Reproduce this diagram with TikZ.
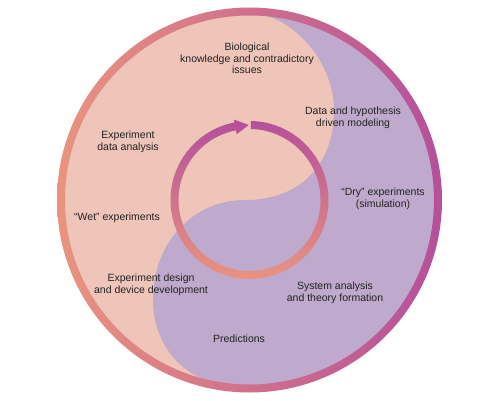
\documentclass[tikz,border=0pt]{standalone}
\usepackage{fontspec}
\setmainfont{Liberation Sans}
\definecolor{peach}{RGB}{240,197,185}
\definecolor{lav}{RGB}{191,170,205}
\definecolor{rsalmon}{RGB}{233,148,128}
\definecolor{rpink}{RGB}{208,112,140}
\definecolor{rpurple}{RGB}{180,80,155}
\definecolor{txt}{RGB}{34,34,34}
\tikzset{
  lbl/.style={align=center, text=txt, inner sep=0pt, font=\fontsize{10.5}{11.7}\selectfont}
}
\begin{document}
\begin{tikzpicture}[x=1pt,y=1pt]
\useasboundingbox (0,0) rectangle (500,400);
\coordinate (C) at (249.5,200);
% background halves
\begin{scope}
  \clip (C) circle[radius=186];
  \fill[peach] (C) circle[radius=186];
  \fill[lav] (253,386) .. controls (290,386) and (334,340) .. (334,290)
    .. controls (334,235) and (300,200) .. (245,200)
    .. controls (195,200) and (153,160) .. (153,100)
    .. controls (153,50) and (190,14) .. (237,14)
    -- (237,-5) -- (470,-5) -- (470,405) -- (253,405) -- cycle;
\end{scope}
% outer ring
\shade[left color=rsalmon, right color=rpurple, middle color=rpink, even odd rule]
  (C) circle[radius=192.5] (C) circle[radius=184.5];
% inner arrow ring
\begin{scope}[shift={(249.5,200)}]
\shade[top color=rpurple, bottom color=rsalmon]
  (89:79) arc[start angle=89, end angle=-259, radius=79]
  -- (-259:82) -- (90.6:75) -- (-259:67) -- (-259:71)
  arc[start angle=-259, end angle=89, radius=71] -- cycle;
\end{scope}
% labels
\node[lbl] (bio) at (247,341.5) {Biological\\knowledge and contradictory\\issues};
\node[lbl] (data) at (353,282.5) {Data and hypothesis\\driven modeling};
\node[lbl] (eda) at (128,258) {Experiment\\data analysis};
\node[lbl] (wet) at (117,182) {“Wet” experiments};
\node[lbl] (dry) at (383,201.5) {“Dry” experiments\\(simulation)};
\node[lbl] (edd) at (151,115) {Experiment design\\and device development};
\node[lbl] (sys) at (335,107) {System analysis\\and theory formation};
\node[lbl] (pred) at (239,61) {Predictions};
\end{tikzpicture}
\end{document}
